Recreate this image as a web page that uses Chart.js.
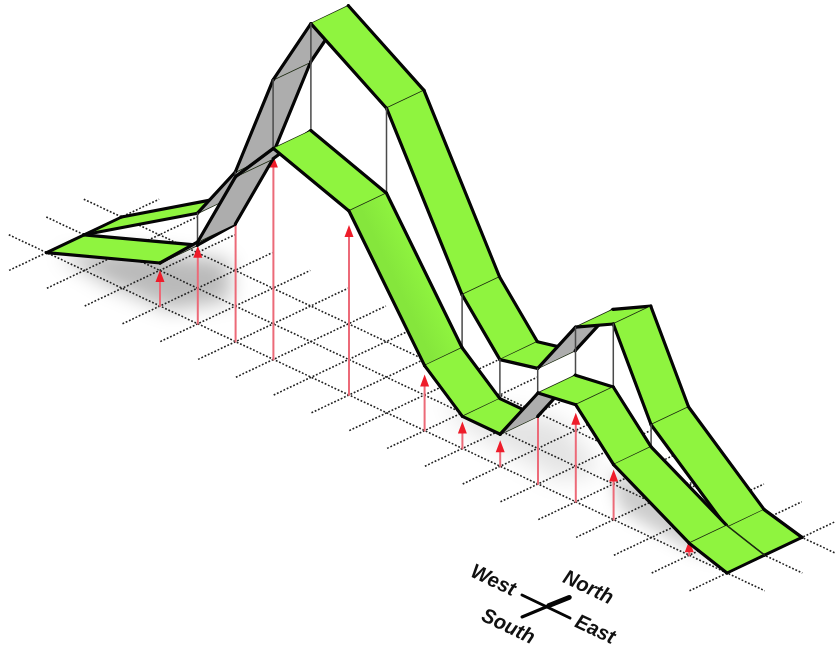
<!DOCTYPE html>
<html><head><meta charset="utf-8">
<style>html,body{margin:0;padding:0;background:#fff}canvas{display:block}</style>
<script src="https://cdn.jsdelivr.net/npm/chart.js@4/dist/chart.umd.min.js"></script>
</head><body><div style="width:835px;height:648px"><canvas id="c" width="835" height="648"></canvas></div>
<script>
// Distances along the West-East axis, and ribbon heights at those stations
const stations      = [-3, 0, 1, 2, 3, 5, 7, 8, 9, 10, 11, 12, 14, 15];
const frontHeights  = [0, 43, 82, 165, 211, 184, 65, 32, 32, 91, 97, 55, 12, 0];
const backHeights   = [0, 75, 134, 244, 318, 269, 118, 71, 80, 139, 160, 77, 10, 0];
// Red measurement arrows
const arrowStations = [0, 1, 2, 3, 5, 7, 8, 9, 10, 11, 12, 14];
const arrowHeights  = [36, 78, 155, 204, 170, 56, 27, 26, 87, 89, 50, 15];
// Ground grid
const gridCrossStations = [-3,-2,-1,0,1,2,3,4,5,6,7,8,9,10,11,12,13,14,15];
const gridRows = [0, 1, 2];
const compassLabels = ['West', 'North', 'South', 'East'];
// Soft ground shadows as [west-east, south-north] patches
const shadowNear = [[-2.76,0.11],[-1.25,-0.07],[0.25,0.02],[0.76,1.1],[-0.36,2.2],[-2,1.2]];
const shadowMid  = [[6.35,1.05],[7.6,0.6],[10.2,0.4],[10.45,1.25],[8.5,2.1]];
const shadowFar  = [[10.55,1.35],[11.83,0.37],[13.9,0.16],[14.56,0.29],[11.8,1.47]];

const GREEN = '#8ff43f', GRAY = '#adadad', BLACK = '#050505';
const P = (k, n, h) => ({ x: 160 + 37.8 * k + 37.5 * n, y: 648 - (306 + 17.8 * (k - n) - h) });

const datasets = [];
function line(points, width, color, dash) {
  datasets.push({ data: points, showLine: true, pointRadius: 0, borderColor: color, borderWidth: width,
    borderDash: dash || [], borderCapStyle: dash ? 'butt' : 'round', borderJoinStyle: 'round', tension: 0, fill: false });
}
function poly(points, color, blur, shade) {
  datasets.push({ data: points, showLine: false, pointRadius: 0, polyFill: color, polyBlur: blur || 0, polyShade: shade || null });
}
function ribbon(heights, n0) {
  const last = stations.length - 1;
  for (let i = 0; i < last; i++) {
    const a = stations[i], b = stations[i + 1];
    const Sa = P(a, n0, heights[i]), Sb = P(b, n0, heights[i + 1]);
    const Na = P(a, n0 + 1, heights[i]), Nb = P(b, n0 + 1, heights[i + 1]);
    const under = (heights[i + 1] - heights[i]) / (b - a) > 35.6;
    const shaded = n0 === 0 && a === 5;
    poly([Sa, Sb, Nb, Na], under ? GRAY : GREEN, 0, shaded ? '#85e63c' : null);
    const outer = i === last - 1;
    if (i === 0) line([Sa, Na], 3, BLACK);
    line([Sb, Nb], outer ? 3 : 1.5, outer ? BLACK : '#1c2a10');
    if (n0 === 0) { line([Sa, Sb], 3.2, BLACK); line([Na, Nb], outer ? 1.5 : 3.2, outer ? '#1c2a10' : BLACK); }
    else { line([Na, Nb], 3.2, BLACK); line([Sa, Sb], outer ? 1.5 : 3.2, outer ? '#1c2a10' : BLACK); }
  }
}

// ground shadows
[[shadowNear, 'rgba(0,0,0,.27)', 10], [shadowMid, 'rgba(0,0,0,.11)', 12], [shadowFar, 'rgba(0,0,0,.2)', 8]]
  .forEach(([s, c, b]) => poly(s.map(([k, n]) => P(k, n, 0)), c, b));
// ground grid
gridRows.forEach(n => line([P(-4, n, 0), P(16, n, 0)], 1.6, '#222', [1.8, 1.8]));
gridCrossStations.forEach(k => line([P(k, -1, 0), P(k, 3, 0)], 1.6, '#222', [1.8, 1.8]));
// arrows
arrowStations.forEach((k, i) => {
  const h = arrowHeights[i];
  line([P(k, 0, 0), P(k, 0, h - 8)], 2, '#ec6a78');
  const tip = P(k, 0, h), base = P(k, 0, h - 12);
  poly([tip, { x: base.x + 4.5, y: base.y }, { x: base.x - 4.5, y: base.y }], '#ee1c2a');
});
// back ribbon, connecting posts, front ribbon
ribbon(backHeights, 1);
stations.forEach((k, i) => { if (i > 0 && i < stations.length - 1) line([P(k, 1, backHeights[i]), P(k, 1, frontHeights[i])], 1.5, '#4a4a4a'); });
ribbon(frontHeights, 0);
// compass
const CX = 546, CY = 648 - 607;
line([{ x: CX - 24, y: CY + 12 }, { x: CX + 24, y: CY - 11 }], 3, BLACK);
line([{ x: CX - 24, y: CY - 10 }, { x: CX + 24, y: CY + 10 }], 3, BLACK);
line([{ x: CX + 3, y: CY + 1.5 }, { x: CX + 23, y: CY + 9.5 }], 5, BLACK);
datasets.forEach((d, i) => { d.order = datasets.length - i; });

const polyPlugin = {
  id: 'poly',
  beforeDatasetDraw(chart, args) {
    const ds = chart.data.datasets[args.index];
    if (!ds.polyFill) return;
    const pts = chart.getDatasetMeta(args.index).data, ctx = chart.ctx;
    ctx.save();
    if (ds.polyBlur) ctx.filter = 'blur(' + ds.polyBlur + 'px)';
    ctx.beginPath();
    pts.forEach((p, i) => i ? ctx.lineTo(p.x, p.y) : ctx.moveTo(p.x, p.y));
    ctx.closePath();
    let fill = ds.polyFill;
    if (ds.polyShade) {
      const g = ctx.createLinearGradient((pts[0].x + pts[1].x) / 2, (pts[0].y + pts[1].y) / 2, (pts[2].x + pts[3].x) / 2, (pts[2].y + pts[3].y) / 2);
      g.addColorStop(0, ds.polyShade); g.addColorStop(0.25, ds.polyShade); g.addColorStop(1, ds.polyFill);
      fill = g;
    }
    ctx.fillStyle = fill;
    ctx.fill();
    ctx.restore();
  },
  afterDatasetsDraw(chart) {
    const ctx = chart.ctx, sx = chart.scales.x, sy = chart.scales.y;
    const spots = [[493, 581], [588, 588], [508, 627], [595, 630]];
    compassLabels.forEach((t, i) => {
      const x = sx.getPixelForValue(spots[i][0]), y = sy.getPixelForValue(648 - spots[i][1]);
      ctx.save();
      ctx.translate(x, y);
      ctx.transform(0.9, 0.43, -0.4, 0.95, 0, 0);
      ctx.font = 'italic bold 20px "Liberation Sans"';
      ctx.textAlign = 'center'; ctx.textBaseline = 'middle';
      ctx.fillStyle = '#111';
      ctx.fillText(t, 0, 0);
      ctx.restore();
    });
  }
};

new Chart(document.getElementById('c'), {
  type: 'scatter',
  data: { datasets },
  plugins: [polyPlugin],
  options: {
    responsive: false, animation: false, events: [],
    layout: { padding: 0 },
    plugins: { legend: { display: false }, tooltip: { enabled: false } },
    scales: {
      x: { type: 'linear', min: 0, max: 835, display: false },
      y: { type: 'linear', min: 0, max: 648, display: false }
    }
  }
});
</script></body></html>
